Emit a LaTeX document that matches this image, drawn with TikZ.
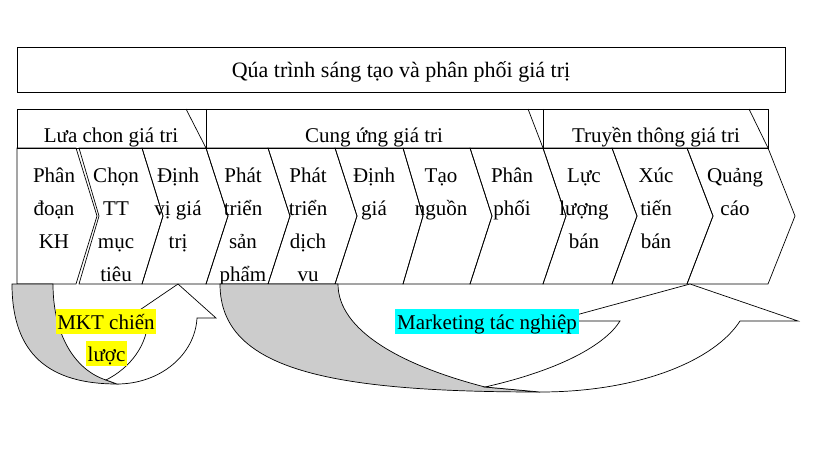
\documentclass[tikz,border=0pt]{standalone}
\usepackage{fontspec}
\setmainfont{Liberation Serif}
\definecolor{bandgray}{RGB}{204,204,204}
\definecolor{hlyellow}{RGB}{255,255,0}
\definecolor{hlcyan}{RGB}{0,255,255}
\newcommand\chevshape[4]{\draw[edge] (#1,148) -- (#3,148) -- (#4,216) -- (#3,284) -- (#1,284) -- (#2,216) -- cycle;}
\begin{document}
\begin{tikzpicture}[x=1pt,y=-1pt]
\tikzset{
  edge/.style={draw=black,line width=0.7pt},
  txt/.style={inner sep=0pt,anchor=base,align=center,font=\fontsize{21}{33}\selectfont},
  band/.style={draw=black,line width=0.7pt,fill=bandgray},
  front/.style={draw=black,line width=0.7pt,fill=white},
  hl/.style={txt,inner xsep=1.5pt,text height=20.5pt,text depth=4.5pt}
}
\fill[white] (0,0) rectangle (818,457);
\useasboundingbox (0,0) rectangle (818,457);

% title box
\draw[edge] (17,47) rectangle (785,92);
\node[txt,font=\fontsize{22}{33}\selectfont] (title) at (401,78) {Qúa trình sáng tạo và phân phối giá trị};

% header row
\draw[edge] (17,109) rectangle (768,148);
\draw[edge] (206,109) -- (206,148);
\draw[edge] (543,109) -- (543,148);
\draw[edge] (186,109) -- (206,148);
\draw[edge] (528,109) -- (543,148);
\draw[edge] (749,109) -- (768,148);
\begin{scope}
\clip (17,109) rectangle (768,148);
\node[txt] (h1) at (111,143) {Lưa chon giá tri};
\node[txt] (h2) at (374,143) {Cung ứng giá tri};
\node[txt] (h3) at (656,143) {Truyền thông giá tri};
\end{scope}

% chevrons
\chevshape{17}{17}{76}{97}
\chevshape{79}{99}{142}{163}
\chevshape{142}{163}{206}{228}
\chevshape{206}{228}{268}{290}
\chevshape{268}{290}{335}{357}
\chevshape{335}{357}{403}{423}
\chevshape{403}{423}{470}{492}
\chevshape{470}{492}{543}{566}
\chevshape{543}{566}{612}{637}
\chevshape{612}{637}{687}{713}
\chevshape{687}{713}{768}{795}

% multi-line nodes: base anchor is the baseline of the last line
\begin{scope}
\clip (10,148) rectangle (800,284);
\node[txt] (c1) at (54,248) {Phân\\đoạn\\KH};
\node[txt] (c2) at (116,281) {Chọn\\TT\\mục\\tiêu};
\node[txt] (c3) at (178,248) {Định\\vị giá\\trị};
\node[txt] (c4) at (243,281) {Phát\\triển\\sản\\phẩm};
\node[txt] (c5) at (308,281) {Phát\\triển\\dịch\\vu};
\node[txt] (c6) at (374,215) {Định\\giá};
\node[txt] (c7) at (441,215) {Tạo\\nguồn};
\node[txt] (c8) at (512,215) {Phân\\phối};
\node[txt] (c9) at (584,248) {Lực\\lượng\\bán};
\node[txt] (c10) at (656,248) {Xúc\\tiến\\bán};
\node[txt] (c11) at (735,215) {Quảng\\cáo};
\end{scope}

% left curved arrow
\path[band] (12,284) .. controls (12,355) and (50,384) .. (117,384)
  -- (106,380) .. controls (75,370) and (53,335) .. (53,284) -- cycle;
\path[front] (106,380) .. controls (130,368) and (148,345) .. (148,318)
  -- (128,318) -- (178,284) -- (216,318) -- (197,318)
  .. controls (195,355) and (160,384) .. (117,384) -- cycle;

% big curved arrow
\path[band] (220,284) .. controls (220,370) and (330,392) .. (540,392)
  -- (485,387) .. controls (400,365) and (338,330) .. (338,284) -- cycle;
\path[front] (485,387) .. controls (560,370) and (605,345) .. (620,321)
  -- (554,321) -- (690,284) -- (798,321) -- (740,321)
  .. controls (715,360) and (640,392) .. (540,392) -- cycle;

% labels
\node[hl,fill=hlyellow] (mkt1) at (106,329) {MKT chiến};
\node[hl,fill=hlyellow] (mkt2) at (106.5,361) {lược};
\node[hl,fill=hlcyan,inner xsep=2.5pt] (mtn) at (487,329) {Marketing tác nghiệp};
\end{tikzpicture}
\end{document}
